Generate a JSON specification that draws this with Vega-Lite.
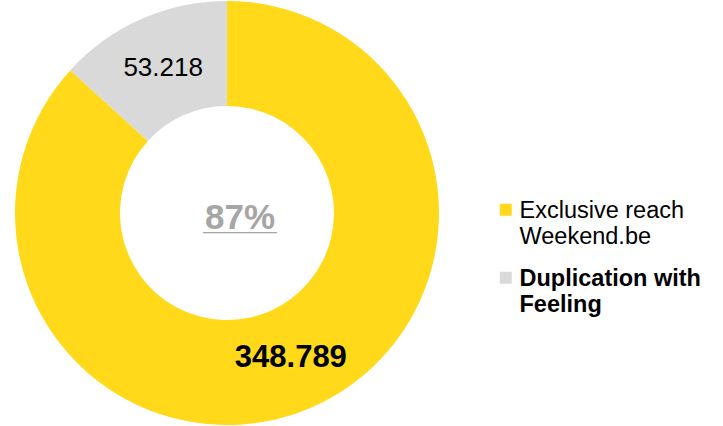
{
  "$schema": "https://vega.github.io/schema/vega-lite/v6.json",
  "width": 454,
  "height": 426,
  "padding": 0,
  "background": "white",
  "config": {"view": {"stroke": null}, "font": "Liberation Sans"},
  "data": {
    "values": [
      {"cat": "Exclusive reach Weekend.be", "value": 348789, "label": "348.789", "order": 1},
      {"cat": "Duplication with Feeling", "value": 53218, "label": "53.218", "order": 2}
    ]
  },
  "layer": [
    {
      "mark": {"type": "arc", "innerRadius": 107, "outerRadius": 212, "strokeWidth": 0},
      "encoding": {
        "theta": {"field": "value", "type": "quantitative", "stack": true},
        "order": {"field": "order", "type": "quantitative"},
        "color": {
          "field": "cat",
          "type": "nominal",
          "sort": ["Exclusive reach Weekend.be", "Duplication with Feeling"],
          "scale": {"domain": ["Exclusive reach Weekend.be", "Duplication with Feeling"], "range": ["#FFD91A", "#D9D9D9"]},
          "legend": {
            "title": null,
            "orient": "none",
            "legendX": 494,
            "legendY": 198,
            "padding": 0,
            "symbolType": "square",
            "symbolSize": 144,
            "symbolStrokeWidth": 0,
            "labelFont": "Liberation Sans",
            "labelFontSize": 23.5,
            "labelColor": "black",
            "labelLimit": 400,
            "labelOffset": 2,
            "labelBaseline": "top",
            "rowPadding": 17,
            "labelExpr": "datum.label == 'Exclusive reach Weekend.be' ? ['Exclusive reach', 'Weekend.be'] : ['Duplication with', 'Feeling']",
            "encode": {
              "labels": {
                "update": {
                  "fontWeight": {"signal": "datum.label == 'Duplication with Feeling' ? 'bold' : 'normal'"},
                  "lineHeight": {"value": 26.5},
                  "dy": {"value": -11}
                }
              }
            }
          }
        }
      }
    },
    {
      "mark": {"type": "text", "radius": 158, "fontSize": 31, "fontWeight": "bold", "color": "black"},
      "encoding": {
        "theta": {"field": "value", "type": "quantitative", "stack": true},
        "order": {"field": "order", "type": "quantitative"},
        "text": {"condition": {"test": "datum.order == 1", "field": "label"}, "value": ""}
      }
    },
    {
      "mark": {"type": "text", "radius": 158, "fontSize": 26, "fontWeight": "normal", "color": "black"},
      "encoding": {
        "theta": {"field": "value", "type": "quantitative", "stack": true},
        "order": {"field": "order", "type": "quantitative"},
        "text": {"condition": {"test": "datum.order == 2", "field": "label"}, "value": ""}
      }
    },
    {
      "data": {"values": [{"t": "87%"}]},
      "mark": {"type": "text", "fontSize": 35, "fontWeight": "bold", "color": "#A6A6A6", "baseline": "alphabetic", "dx": 13, "dy": 16},
      "encoding": {"text": {"field": "t", "type": "nominal"}}
    },
    {
      "data": {"values": [{"u": "____"}]},
      "mark": {"type": "text", "fontSize": 33, "fontWeight": "bold", "color": "#A6A6A6", "baseline": "alphabetic", "dx": 13, "dy": 16},
      "encoding": {"text": {"field": "u", "type": "nominal"}}
    }
  ]
}
